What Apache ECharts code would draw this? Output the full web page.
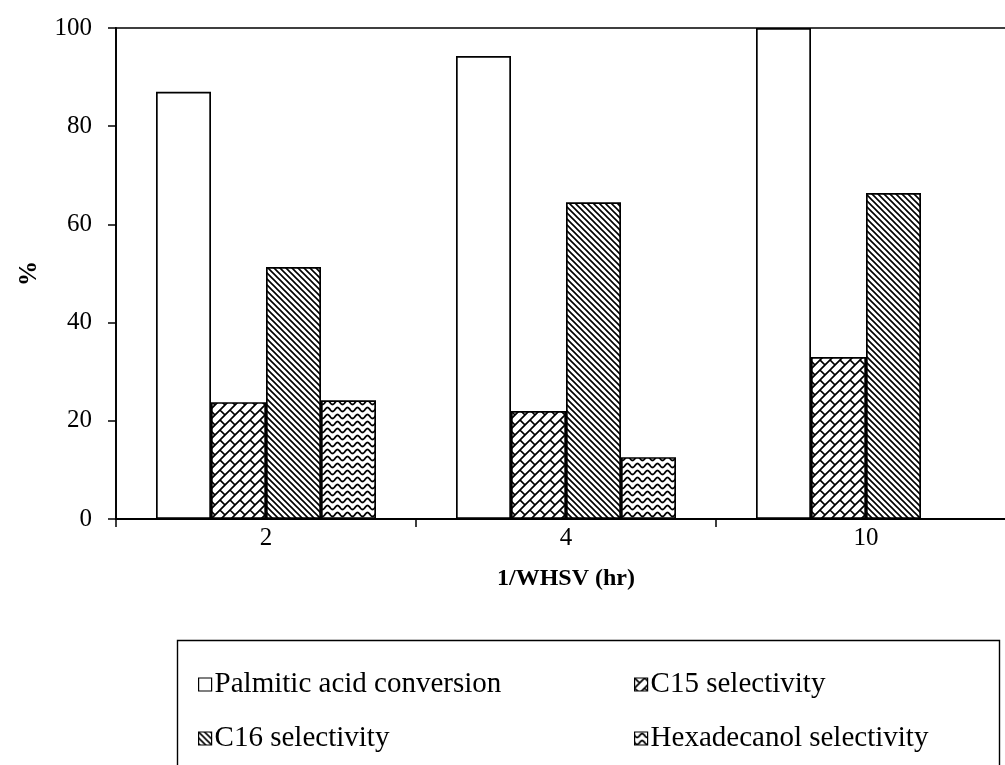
<!DOCTYPE html>
<html>
<head>
<meta charset="utf-8">
<script src="https://cdn.jsdelivr.net/npm/echarts@6/dist/echarts.min.js"></script>
<style>
html,body{margin:0;padding:0;background:#fff;}
#chart{width:1005px;height:765px;}
</style>
</head>
<body>
<div id="chart"></div>
<script>
// ---- data ----
var categories = ['2', '4', '10'];
var seriesNames = ['Palmitic acid conversion', 'C15 selectivity', 'C16 selectivity', 'Hexadecanol selectivity'];
var palmiticConversion = [87, 94.3, 100];
var c15Selectivity = [23.8, 22, 33];
var c16Selectivity = [51.3, 64.5, 66.4];
var hexadecanolSelectivity = [24.2, 12.6, '-'];
var yTicks = [0, 20, 40, 60, 80, 100];

// ---- pattern tiles ----
function makeCanvas(w, h) {
  var c = document.createElement('canvas');
  c.width = w; c.height = h;
  var ctx = c.getContext('2d');
  ctx.fillStyle = '#fff';
  ctx.fillRect(0, 0, w, h);
  ctx.strokeStyle = '#000';
  return [c, ctx];
}
function brickPattern() {
  var T = 20, B = 10;
  var r = makeCanvas(T, T), c = r[0], ctx = r[1];
  ctx.lineWidth = 1.7;
  ctx.beginPath();
  for (var k = -6; k <= 10; k++) {
    var a = k * B;
    ctx.moveTo(-2 * T, a + 2 * T);
    ctx.lineTo(3 * T, a - 3 * T);
  }
  for (var k2 = -6; k2 <= 10; k2++) {
    var a2 = k2 * B;
    var off = ((k2 % 2) + 2) % 2 ? B : 0;
    for (var m = -4; m <= 4; m++) {
      var cc = m * T + off;
      ctx.moveTo((a2 + cc) / 2, (a2 - cc) / 2);
      ctx.lineTo((a2 + B + cc) / 2, (a2 + B - cc) / 2);
    }
  }
  ctx.stroke();
  return c;
}
function diagPattern() {
  var T = 6;
  var r = makeCanvas(T, T), c = r[0], ctx = r[1];
  ctx.lineWidth = 1.6;
  ctx.beginPath();
  for (var k = -3; k <= 3; k++) {
    ctx.moveTo(k * T - T, -T);
    ctx.lineTo(k * T + 2 * T, 2 * T);
  }
  ctx.stroke();
  return c;
}
function wavePattern() {
  var W = 10, H = 7;
  var r = makeCanvas(W, H), c = r[0], ctx = r[1];
  ctx.lineWidth = 1.8;
  for (var row = -1; row <= 1; row++) {
    ctx.beginPath();
    for (var x = -1; x <= W + 1; x += 0.25) {
      var y = row * H + H / 2 + 2 * Math.sin(2 * Math.PI * x / W);
      if (x === -1) ctx.moveTo(x, y); else ctx.lineTo(x, y);
    }
    ctx.stroke();
  }
  return c;
}

var fills = [
  '#ffffff',
  { image: brickPattern(), repeat: 'repeat' },
  { image: diagPattern(), repeat: 'repeat' },
  { image: wavePattern(), repeat: 'repeat' }
];
var dataSets = [palmiticConversion, c15Selectivity, c16Selectivity, hexadecanolSelectivity];

var FONT = 'Liberation Serif';
var series = seriesNames.map(function (n, i) {
  return {
    name: n,
    type: 'bar',
    data: dataSets[i],
    barWidth: 55,
    barGap: '0%',
    itemStyle: { color: fills[i], borderColor: '#000', borderWidth: 1.7 },
    emphasis: { disabled: true },
    animation: false
  };
});

var legendPos = [[198, 670], [634, 670], [198, 724], [634, 724]];
var legends = seriesNames.map(function (n, i) {
  return {
    data: [n],
    left: legendPos[i][0],
    top: legendPos[i][1],
    icon: 'rect',
    itemWidth: 13,
    itemHeight: 13,
    itemGap: 0,
    padding: 0,
    selectedMode: false,
    textStyle: { fontFamily: FONT, fontSize: 29, color: '#000', padding: [0, 0, 0, -2] },
    itemStyle: { borderColor: '#000', borderWidth: 1.2 }
  };
});

var chart = echarts.init(document.getElementById('chart'), null, { renderer: 'canvas' });
chart.setOption({
  backgroundColor: '#fff',
  animation: false,
  grid: { left: 116, top: 28, width: 900, height: 491, show: true, borderColor: '#000', borderWidth: 1.5, backgroundColor: 'transparent', outerBoundsMode: 'none', containLabel: false },
  legend: legends,
  xAxis: {
    type: 'category',
    data: categories,
    boundaryGap: true,
    axisLine: { lineStyle: { color: '#000', width: 1.8 } },
    axisTick: { show: true, length: 8, lineStyle: { color: '#000', width: 1.5 } },
    axisLabel: { fontFamily: FONT, fontSize: 25, color: '#000', margin: 7 },
    name: '1/WHSV (hr)',
    nameLocation: 'middle',
    nameGap: 48,
    nameTextStyle: { fontFamily: FONT, fontSize: 24, fontWeight: 'bold', color: '#000' }
  },
  yAxis: {
    type: 'value',
    min: yTicks[0],
    max: yTicks[yTicks.length - 1],
    interval: yTicks[1] - yTicks[0],
    axisLine: { show: true, lineStyle: { color: '#000', width: 1.8 } },
    axisTick: { show: true, length: 8, lineStyle: { color: '#000', width: 1.5 } },
    splitLine: { show: false },
    axisLabel: { fontFamily: FONT, fontSize: 25, color: '#000', margin: 24 },
    name: '%',
    nameLocation: 'middle',
    nameRotate: 90,
    nameGap: 74,
    nameTextStyle: { fontFamily: FONT, fontSize: 25, fontWeight: 'bold', color: '#000' }
  },
  graphic: [{
    type: 'rect',
    shape: { x: 177.5, y: 640.5, width: 822, height: 140 },
    style: { fill: 'transparent', stroke: '#000', lineWidth: 1.4 },
    silent: true,
    z: -1
  }],
  series: series
});
</script>
</body>
</html>
